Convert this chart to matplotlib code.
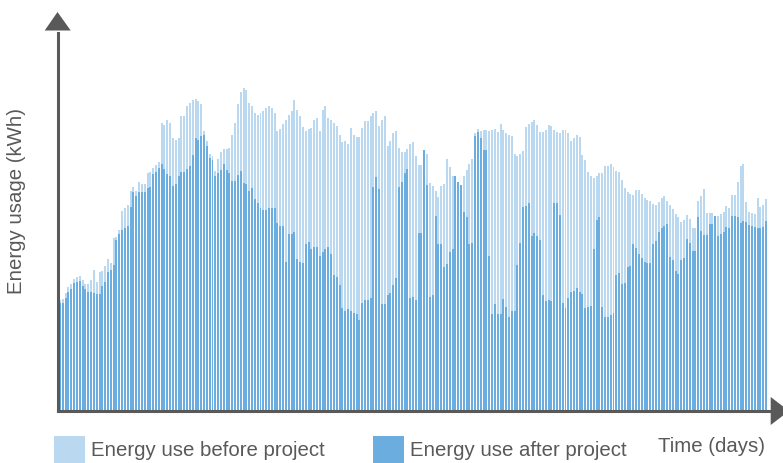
import matplotlib
matplotlib.use("Agg")
import matplotlib.pyplot as plt
from matplotlib.patches import Polygon, Rectangle

W, H = 783, 464

# daily energy use (arbitrary kWh scale)
before = [
    111, 112, 118, 124, 127, 132, 134, 135, 131, 127, 127, 131, 141, 129, 139, 140,
    145, 152, 148, 173, 174, 181, 200, 203, 206, 220, 224, 220, 229, 227, 227, 238,
    239, 243, 246, 249, 288, 286, 291, 288, 273, 271, 273, 295, 295, 305, 308, 311,
    312, 310, 307, 280, 270, 257, 255, 240, 252, 259, 262, 262, 263, 276, 288, 307,
    319, 323, 321, 308, 305, 298, 296, 298, 300, 303, 305, 303, 298, 280, 282, 287,
    291, 296, 300, 311, 301, 295, 284, 280, 282, 283, 291, 293, 280, 301, 305, 293,
    291, 288, 285, 276, 269, 270, 267, 283, 276, 274, 274, 283, 290, 290, 295, 298,
    300, 285, 291, 295, 265, 270, 278, 280, 263, 259, 259, 262, 267, 269, 255, 246,
    246, 261, 257, 228, 225, 220, 214, 225, 227, 252, 244, 235, 235, 229, 226, 235,
    241, 247, 252, 278, 282, 280, 281, 281, 280, 281, 282, 279, 287, 281, 278, 276,
    275, 257, 255, 257, 260, 284, 287, 289, 291, 286, 279, 279, 281, 286, 285, 281,
    279, 278, 281, 281, 278, 270, 273, 276, 274, 256, 251, 239, 235, 233, 235, 238,
    238, 245, 245, 247, 244, 240, 239, 231, 223, 219, 217, 216, 221, 221, 217, 213,
    211, 210, 207, 206, 209, 213, 215, 210, 206, 202, 197, 194, 189, 191, 196, 192,
    183, 183, 210, 215, 222, 198, 198, 198, 195, 195, 197, 199, 205, 203, 216, 216,
    229, 245, 247, 209, 199, 198, 197, 213, 204, 206, 212,
]
after = [
    108, 108, 113, 119, 122, 128, 129, 130, 125, 122, 119, 119, 118, 117, 117, 125,
    129, 139, 141, 146, 171, 177, 181, 183, 185, 204, 219, 215, 219, 219, 219, 223,
    224, 237, 239, 243, 247, 242, 237, 235, 225, 227, 235, 239, 239, 242, 245, 256,
    273, 271, 275, 276, 265, 253, 251, 235, 238, 241, 247, 241, 238, 230, 230, 236,
    240, 228, 227, 220, 223, 212, 208, 203, 201, 201, 203, 203, 203, 188, 185, 185,
    149, 177, 177, 179, 152, 149, 148, 167, 169, 162, 164, 164, 155, 159, 162, 164,
    157, 136, 134, 126, 103, 100, 102, 100, 98, 97, 91, 108, 111, 111, 113, 224,
    234, 222, 107, 107, 116, 118, 126, 133, 224, 229, 238, 242, 113, 114, 111, 178,
    178, 261, 226, 114, 116, 195, 167, 167, 144, 147, 159, 162, 235, 229, 226, 199,
    194, 167, 168, 275, 279, 273, 261, 261, 155, 97, 107, 97, 97, 112, 104, 94,
    100, 100, 146, 168, 204, 205, 208, 175, 178, 175, 171, 116, 110, 111, 110, 208,
    208, 196, 108, 103, 113, 119, 120, 123, 119, 117, 103, 104, 105, 162, 191, 194,
    104, 94, 94, 96, 98, 136, 138, 127, 128, 144, 145, 167, 163, 157, 153, 149,
    148, 148, 167, 170, 179, 183, 185, 187, 154, 151, 140, 137, 151, 153, 172, 168,
    160, 160, 194, 180, 176, 176, 187, 187, 195, 175, 177, 179, 184, 183, 195, 195,
    194, 188, 190, 189, 186, 185, 184, 183, 183, 184, 190,
]
days = list(range(len(before)))

legend_labels = ["Energy use before project", "Energy use after project"]
x_label = "Time (days)"
y_label = "Energy usage (kWh)"

light = "#bad8f0"
dark = "#6badde"
axis_col = "#595959"
text_col = "#595959"
plt.rcParams["font.family"] = ["Liberation Sans", "DejaVu Sans"]


def fx(x):
    return x / W


def fy(y):
    return 1 - y / H


fig = plt.figure(figsize=(W / 100, H / 100), dpi=100)
left, right, bottom, top = 57.5, 770, 411.5, 34
ax = fig.add_axes([fx(left), fy(bottom), fx(right - left), fy(top) - fy(bottom)])

ax.bar(days, before, width=0.7, color=light, linewidth=0)
ax.bar(days, after, width=0.7, color=dark, linewidth=0)

pitch = 2.824
x0 = 60
ax.set_xlim((left - x0) / pitch, (right - x0) / pitch)
ax.set_ylim(0, bottom - top)

for side in ("top", "right"):
    ax.spines[side].set_visible(False)
for side in ("left", "bottom"):
    ax.spines[side].set_color(axis_col)
    ax.spines[side].set_linewidth(2.2)
    ax.spines[side].set_zorder(5)
ax.set_xticks([])
ax.set_yticks([])

# arrow heads
tri_up = [(fx(44.7), fy(31.5)), (fx(70.7), fy(31.5)), (fx(57.5), fy(13))]
tri_right = [(fx(770.7), fy(398)), (fx(770.7), fy(426)), (fx(789), fy(412))]
for tri in (tri_up, tri_right):
    fig.patches.append(Polygon(tri, closed=True, transform=fig.transFigure,
                               facecolor=axis_col, edgecolor="none"))

# legend
for (px, col), label in zip([(54, light), (373, dark)], legend_labels):
    fig.patches.append(Rectangle((fx(px), fy(464)), fx(31), fy(437) - fy(464),
                                 transform=fig.transFigure, facecolor=col,
                                 edgecolor="none"))
    fig.text(fx(px + 37), fy(451), label, fontsize=14.7, color=text_col,
             ha="left", va="center")

fig.text(fx(765), fy(447), x_label, fontsize=14.7, color=text_col,
         ha="right", va="center")
fig.text(fx(17), fy(201), y_label, fontsize=14.7, color=text_col,
         ha="center", va="center", rotation=90)

fig.savefig("out.png", dpi=100)
